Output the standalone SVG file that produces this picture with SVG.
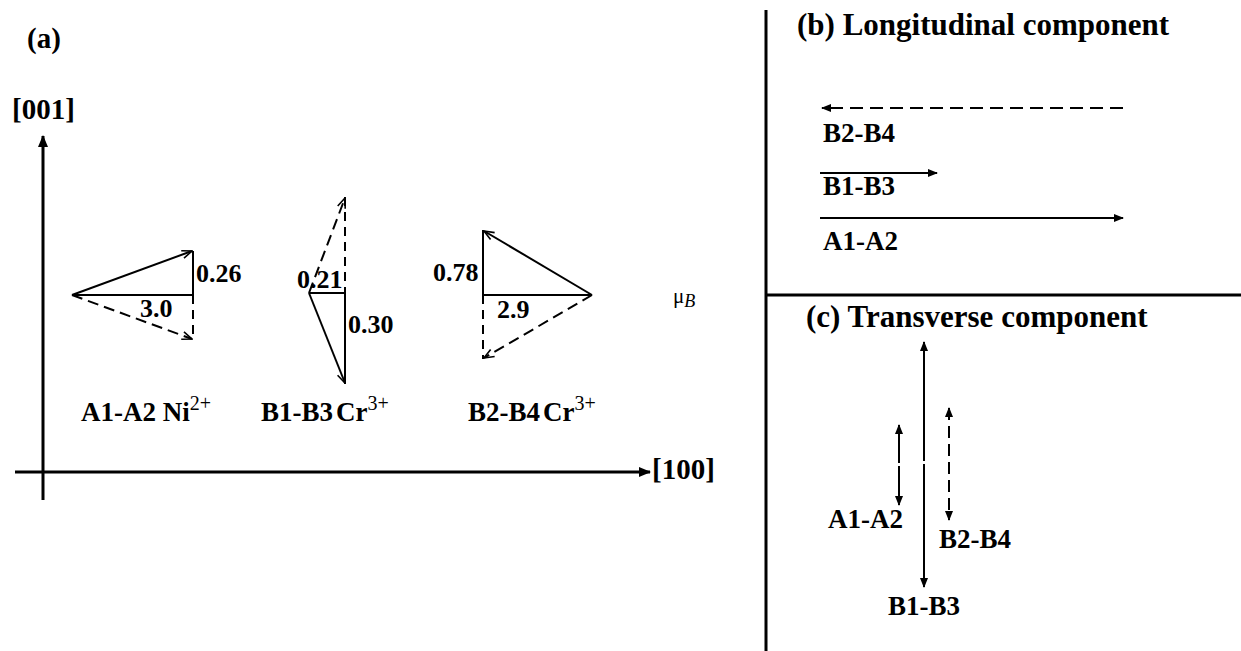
<svg xmlns="http://www.w3.org/2000/svg" width="1241" height="651" viewBox="0 0 1241 651">
<defs>
<style>
.t{font-family:'Liberation Serif','DejaVu Serif',serif;font-weight:bold;fill:#000}
.title{font-size:31px}
.ax-lab{font-size:29px}
.lab{font-size:27px}
.num{font-size:26px}
.sup{font-size:20px;font-weight:normal}
.ax{stroke:#000;stroke-width:3;fill:none}
.div{stroke:#000;stroke-width:3;fill:none}
.v{stroke:#000;stroke-width:2;fill:none}
.vd{stroke:#000;stroke-width:2;fill:none;stroke-dasharray:11 6}
.vd2{stroke:#000;stroke-width:2;fill:none;stroke-dasharray:9 6}
.a{stroke:#000;stroke-width:2;fill:none}
.ad{stroke:#000;stroke-width:2;fill:none;stroke-dasharray:13 7}
.ad2{stroke:#000;stroke-width:2;fill:none;stroke-dasharray:12 6}
</style>
<marker id="big" viewBox="0 0 12 10" refX="11" refY="5" markerWidth="12" markerHeight="10" markerUnits="userSpaceOnUse" orient="auto-start-reverse">
<path d="M0,0 L12,5 L0,10 Z" fill="#000"/>
</marker>
<marker id="fh" viewBox="0 0 10 8" refX="9" refY="4" markerWidth="10" markerHeight="8" markerUnits="userSpaceOnUse" orient="auto-start-reverse">
<path d="M0,0 L10,4 L0,8 Z" fill="#000"/>
</marker>
<marker id="vh" viewBox="0 0 12 10" refX="11" refY="5" markerWidth="12" markerHeight="10" markerUnits="userSpaceOnUse" orient="auto">
<path d="M1,1 L11,5 L1,9" fill="none" stroke="#000" stroke-width="1.6"/>
</marker>
</defs>
<rect width="1241" height="651" fill="#fff"/>

<g id="dividers">
<line class="div" x1="766" y1="10" x2="766" y2="651"/>
<line class="div" x1="766" y1="295" x2="1241" y2="295"/>
</g>

<g id="panel-a">
<text class="t ax-lab" x="27" y="48">(a)</text>
<g id="axes">
<line class="ax" x1="43" y1="500" x2="43" y2="136" marker-end="url(#big)"/>
<text class="t ax-lab" x="12" y="119">[001]</text>
<line class="ax" x1="15" y1="472" x2="650" y2="472" marker-end="url(#big)"/>
<text class="t ax-lab" x="652" y="479">[100]</text>
</g>
<g id="vec-A1A2">
<line class="v" x1="72" y1="295" x2="193" y2="295"/>
<line class="v" x1="193" y1="251" x2="193" y2="295"/>
<line class="v" x1="72" y1="295" x2="192" y2="251" marker-end="url(#vh)"/>
<line class="vd2" x1="193" y1="295" x2="193" y2="339"/>
<line class="vd" x1="72" y1="295" x2="192" y2="339" marker-end="url(#vh)"/>
<text class="t num" x="196" y="282">0.26</text>
<text class="t num" x="140" y="317">3.0</text>
<text class="t lab" x="81" y="421">A1-A2 Ni<tspan class="sup" dy="-11">2+</tspan></text>
</g>
<g id="vec-B1B3">
<line class="v" x1="309" y1="293" x2="345" y2="293"/>
<line class="v" x1="345" y1="293" x2="345" y2="384"/>
<line class="v" x1="309" y1="293" x2="345" y2="383" marker-end="url(#vh)"/>
<line class="vd2" x1="345" y1="197" x2="345" y2="293"/>
<line class="vd" x1="309" y1="293" x2="345" y2="198" marker-end="url(#vh)"/>
<text class="t num" x="297" y="288">0.21</text>
<text class="t num" x="348" y="333">0.30</text>
<text class="t lab" x="261" y="421">B1-B3<tspan dx="3">Cr</tspan><tspan class="sup" dy="-11">3+</tspan></text>
</g>
<g id="vec-B2B4">
<line class="v" x1="483" y1="295" x2="592" y2="295"/>
<line class="v" x1="483" y1="230" x2="483" y2="295"/>
<line class="v" x1="592" y1="295" x2="484" y2="231" marker-end="url(#vh)"/>
<line class="vd2" x1="483" y1="295" x2="483" y2="359"/>
<line class="vd" x1="592" y1="295" x2="484" y2="358" marker-end="url(#vh)"/>
<text class="t num" x="433" y="281">0.78</text>
<text class="t num" x="497" y="318">2.9</text>
<text class="t lab" x="468" y="421">B2-B4<tspan dx="3">Cr</tspan><tspan class="sup" dy="-11">3+</tspan></text>
</g>
<text x="673" y="303" font-family="Liberation Serif, DejaVu Serif, serif" font-size="21">μ<tspan font-style="italic" font-size="18" dy="4">B</tspan></text>
</g>

<g id="panel-b">
<text class="t title" x="797" y="35">(b) Longitudinal component</text>
<g id="connectors-b">
<line class="ad" x1="1123" y1="108" x2="822" y2="108" marker-end="url(#fh)"/>
<line class="a" x1="820" y1="173" x2="937" y2="173" marker-end="url(#fh)"/>
<line class="a" x1="820" y1="218" x2="1123" y2="218" marker-end="url(#fh)"/>
</g>
<text class="t lab" x="823" y="142">B2-B4</text>
<text class="t lab" x="823" y="195">B1-B3</text>
<text class="t lab" x="823" y="250">A1-A2</text>
</g>

<g id="panel-c">
<text class="t title" x="806" y="327">(c) Transverse component</text>
<g id="connectors-c">
<line class="a" x1="924" y1="342" x2="924" y2="587" stroke-dasharray="119 3 200" marker-start="url(#fh)" marker-end="url(#fh)"/>
<line class="a" x1="899" y1="425" x2="899" y2="505" stroke-dasharray="38 3 100" marker-start="url(#fh)" marker-end="url(#fh)"/>
<line class="ad2" x1="949" y1="408" x2="949" y2="520" marker-start="url(#fh)" marker-end="url(#fh)"/>
</g>
<text class="t lab" x="828" y="528">A1-A2</text>
<text class="t lab" x="939" y="548">B2-B4</text>
<text class="t lab" x="888" y="615">B1-B3</text>
</g>
</svg>
